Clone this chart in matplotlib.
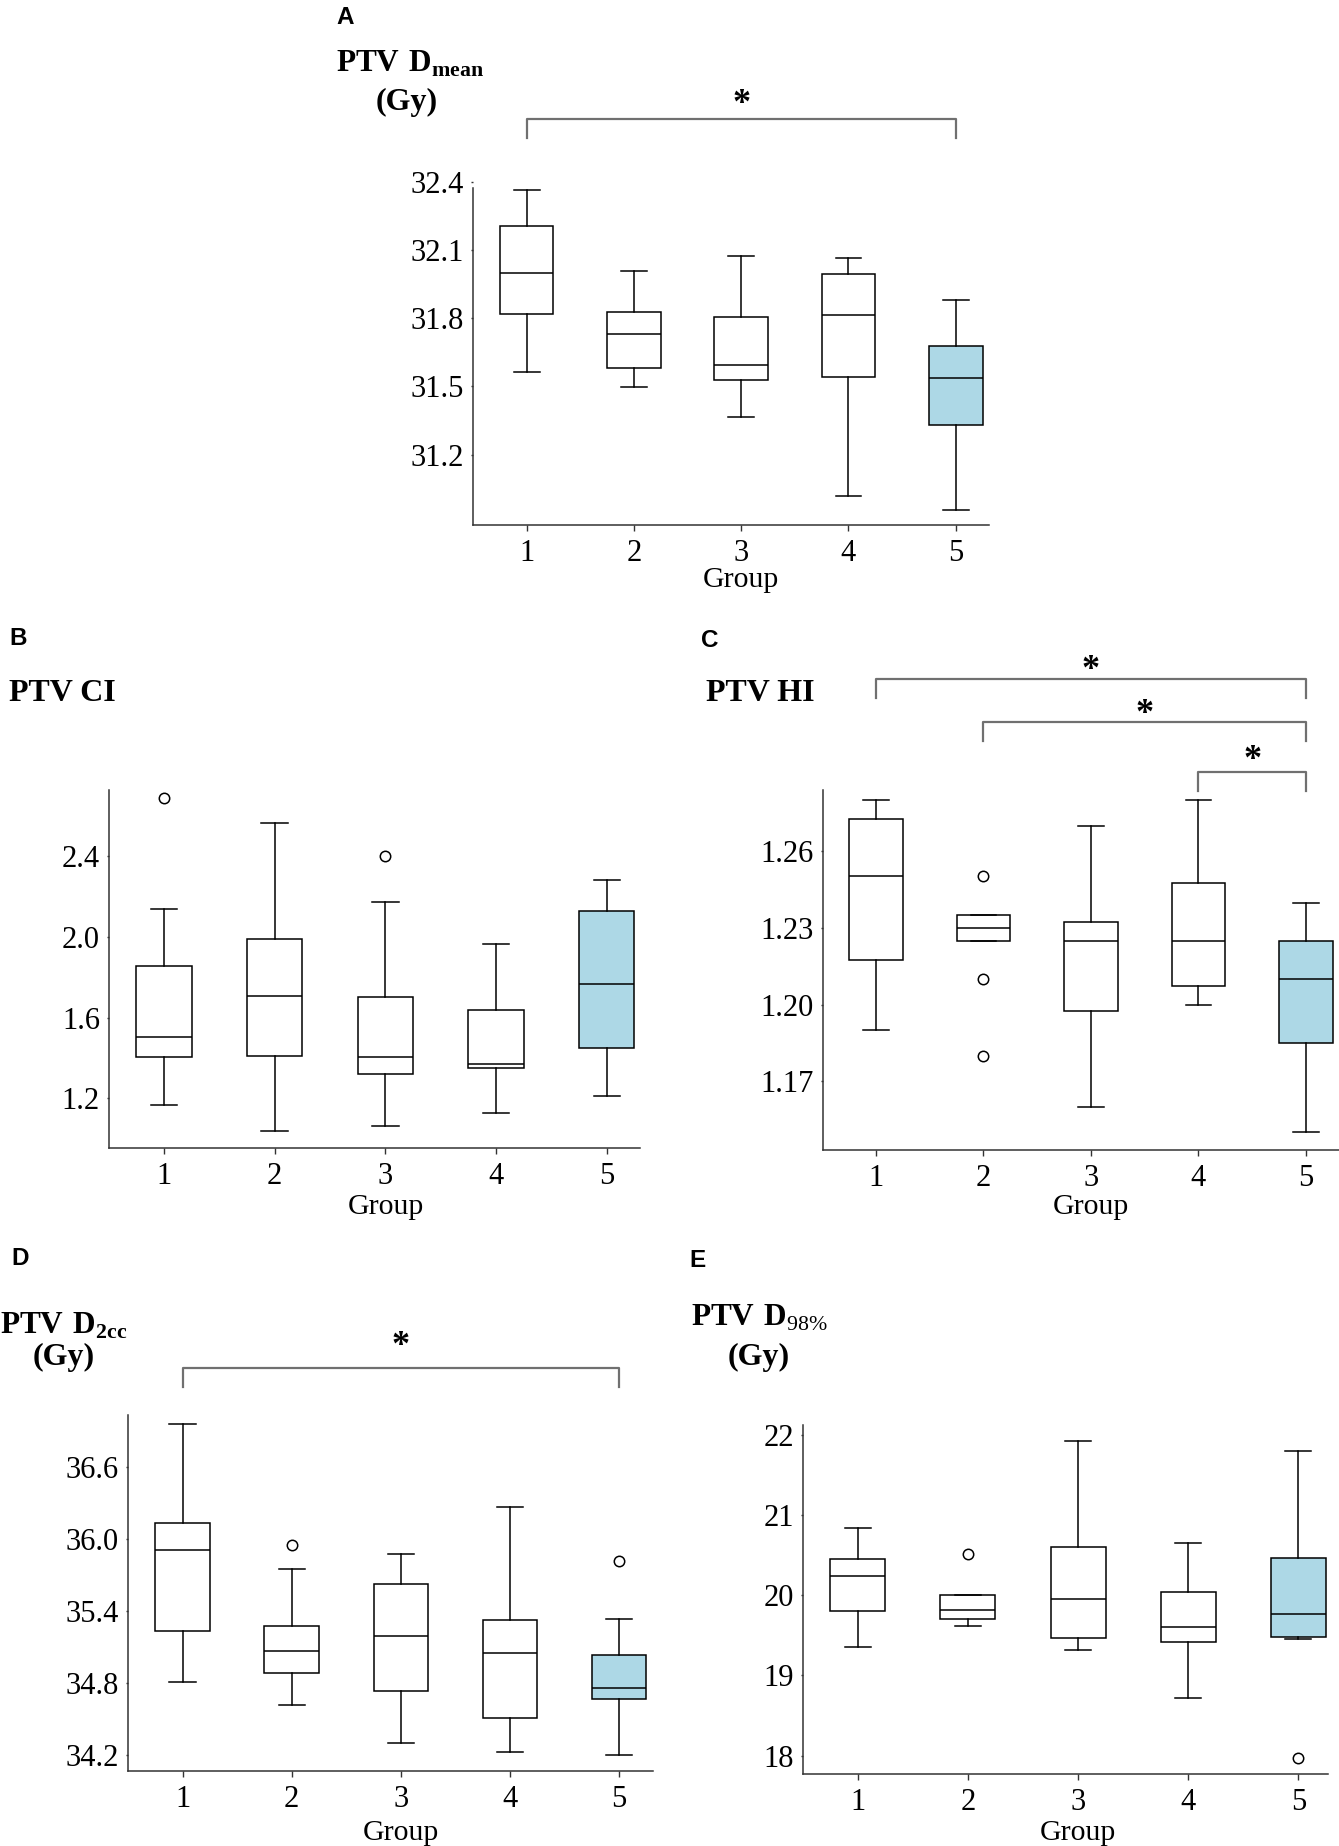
import matplotlib.pyplot as plt
from matplotlib import transforms

W, H = 1339, 1846

plt.rcParams['font.family'] = ['Liberation Serif', 'DejaVu Serif']
plt.rcParams['mathtext.fontset'] = 'custom'
plt.rcParams['mathtext.rm'] = 'Liberation Serif'
plt.rcParams['mathtext.bf'] = 'Liberation Serif:bold'

groups = [1, 2, 3, 4, 5]
fills = ['white', 'white', 'white', 'white', '#ADD8E6']

# --- A: PTV Dmean (Gy) ---
dmean_lo = [31.563, 31.498, 31.367, 31.018, 30.958]
dmean_q1 = [31.819, 31.580, 31.529, 31.543, 31.331]
dmean_med = [31.998, 31.730, 31.592, 31.812, 31.536]
dmean_q3 = [32.207, 31.825, 31.803, 31.995, 31.677]
dmean_hi = [32.364, 32.009, 32.071, 32.064, 31.879]
dmean_out = [[], [], [], [], []]

# --- B: PTV CI ---
ci_lo = [1.165, 1.038, 1.064, 1.125, 1.214]
ci_q1 = [1.403, 1.409, 1.320, 1.348, 1.447]
ci_med = [1.504, 1.705, 1.403, 1.372, 1.766]
ci_q3 = [1.855, 1.991, 1.701, 1.636, 2.126]
ci_hi = [2.138, 2.566, 2.173, 1.966, 2.282]
ci_out = [[2.686], [], [2.40], [], []]

# --- C: PTV HI ---
hi_lo = [1.1901, 1.2250, 1.1599, 1.1999, 1.1502]
hi_q1 = [1.2175, 1.2250, 1.1976, 1.2074, 1.1851]
hi_med = [1.2502, 1.2299, 1.2250, 1.2250, 1.2100]
hi_q3 = [1.2726, 1.2351, 1.2324, 1.2475, 1.2250]
hi_hi = [1.2801, 1.2351, 1.2700, 1.2801, 1.2399]
hi_out = [[], [1.2502, 1.2100, 1.1800], [], [], []]

# --- D: PTV D2cc (Gy) ---
d2cc_lo = [34.806, 34.617, 34.297, 34.223, 34.200]
d2cc_q1 = [35.230, 34.880, 34.733, 34.503, 34.667]
d2cc_med = [35.908, 35.063, 35.190, 35.050, 34.757]
d2cc_q3 = [36.128, 35.273, 35.620, 35.323, 35.030]
d2cc_hi = [36.956, 35.750, 35.873, 36.267, 35.330]
d2cc_out = [[], [35.95], [], [], [35.81]]

# --- E: PTV D98% (Gy) ---
d98_lo = [19.350, 19.619, 19.320, 18.722, 19.454]
d98_q1 = [19.808, 19.699, 19.470, 19.420, 19.484]
d98_med = [20.242, 19.818, 19.958, 19.604, 19.768]
d98_q3 = [20.456, 19.998, 20.600, 20.042, 20.466]
d98_hi = [20.834, 19.998, 21.920, 20.655, 21.800]
d98_out = [[], [20.516], [], [], [17.965]]

fig = plt.figure(figsize=(W / 100, H / 100), dpi=100)


def fy(py):
    return 1 - py / H


def fx(px):
    return px / W


def box_panel(box, xlim, ylim, yticks, fmt, lo, q1, med, q3, hi, out,
              group_base, spine_top=None):
    left, top, right, bottom = box
    ax = fig.add_axes([fx(left), fy(bottom), fx(right - left), (bottom - top) / H])
    stats = [dict(whislo=a, q1=b, med=c, q3=d, whishi=e, fliers=f)
             for a, b, c, d, e, f in zip(lo, q1, med, q3, hi, out)]
    lk = dict(color='black', linewidth=1.1)
    art = ax.bxp(stats, positions=groups, widths=0.5, capwidths=0.24,
                 patch_artist=True, manage_ticks=False,
                 boxprops=dict(edgecolor='black', linewidth=1.1),
                 medianprops=lk, whiskerprops=lk, capprops=lk,
                 flierprops=dict(marker='o', markerfacecolor='none',
                                 markeredgecolor='black', markersize=7.5,
                                 markeredgewidth=1.1))
    for patch, fc in zip(art['boxes'], fills):
        patch.set_facecolor(fc)
    ax.set_xlim(*xlim)
    ax.set_ylim(*ylim)
    ax.set_xticks(groups)
    ax.set_xticklabels([str(g) for g in groups])
    ax.set_yticks(yticks)
    ax.set_yticklabels([fmt % v for v in yticks])
    for side in ['top', 'right']:
        ax.spines[side].set_visible(False)
    for side in ['left', 'bottom']:
        ax.spines[side].set_color('#333333')
        ax.spines[side].set_linewidth(1.1)
    if spine_top is not None:
        ax.spines['left'].set_bounds(ylim[0], spine_top)
    ax.tick_params(axis='x', direction='out', length=4, width=1.0,
                   color='#333333', pad=6, labelsize=22)
    ax.tick_params(axis='y', direction='out', length=1.5, width=1.0,
                   color='#333333', pad=5, labelsize=22)
    ax.set_facecolor('none')
    trans = transforms.blended_transform_factory(ax.transData, fig.transFigure)
    ax.text(3, fy(group_base), 'Group', transform=trans, ha='center',
            va='baseline', fontsize=21.5)
    return ax, trans


def bracket(ax, trans, x1, x2, y, drop, star_y):
    ax.plot([x1, x1, x2, x2], [fy(y + drop), fy(y), fy(y), fy(y + drop)],
            transform=trans, clip_on=False, color='#707070', linewidth=1.6,
            solid_joinstyle='round')
    ax.text((x1 + x2) / 2, fy(star_y + 15), '*', transform=trans,
            ha='center', va='baseline', fontsize=26, fontweight='bold')


def panel_letter(x, y, s):
    fig.text(fx(x), fy(y), s, ha='left', va='top', fontsize=17.5,
             fontweight='bold', family=['Liberation Sans', 'DejaVu Sans'])


def title(x, base, s, ha='left', size=23):
    fig.text(fx(x), fy(base), s, ha=ha, va='baseline', fontsize=size,
             fontweight='bold')


# A (top of the panel is cut just below the 32.4 tick)
axA, trA = box_panel((473, 181, 989, 525), (0.50, 5.31), (30.89, 32.403),
                     [31.2, 31.5, 31.8, 32.1, 32.4], '%.1f',
                     dmean_lo, dmean_q1, dmean_med, dmean_q3, dmean_hi,
                     dmean_out, 587, spine_top=32.372)
bracket(axA, trA, 1, 5, 119, 19, 98)
panel_letter(336, 6, 'A')
title(410, 72, r'$\mathbf{PTV\ D}_{\mathbf{mean}}$', ha='center', size=22.5)
title(407, 110, '(Gy)', ha='center')

# B
axB, trB = box_panel((109, 790, 640, 1148), (0.503, 5.30), (0.954, 2.727),
                     [1.2, 1.6, 2.0, 2.4], '%.1f',
                     ci_lo, ci_q1, ci_med, ci_q3, ci_hi, ci_out, 1214)
panel_letter(9, 627, 'B')
title(9, 701, 'PTV CI')

# C
axC, trC = box_panel((823, 790, 1339, 1150), (0.507, 5.307), (1.1431, 1.2839),
                     [1.17, 1.20, 1.23, 1.26], '%.2f',
                     hi_lo, hi_q1, hi_med, hi_q3, hi_hi, hi_out, 1214)
bracket(axC, trC, 1, 5, 679, 19, 664)
bracket(axC, trC, 2, 5, 722, 19, 708)
bracket(axC, trC, 4, 5, 772, 19, 754)
panel_letter(701, 629, 'C')
title(706, 701, 'PTV HI')

# D
axD, trD = box_panel((128, 1415, 653, 1771), (0.50, 5.31), (34.065, 37.03),
                     [34.2, 34.8, 35.4, 36.0, 36.6], '%.1f',
                     d2cc_lo, d2cc_q1, d2cc_med, d2cc_q3, d2cc_hi, d2cc_out,
                     1840)
bracket(axD, trD, 1, 5, 1368, 19, 1340)
panel_letter(11, 1247, 'D')
title(64, 1334, r'$\mathbf{PTV\ D}_{\mathbf{2cc}}$', ha='center', size=22.5)
title(64, 1365, '(Gy)', ha='center')

# E
axE, trE = box_panel((803, 1425, 1328, 1774), (0.502, 5.27), (17.77, 22.124),
                     [18, 19, 20, 21, 22], '%d',
                     d98_lo, d98_q1, d98_med, d98_q3, d98_hi, d98_out,
                     1840)
panel_letter(689, 1249, 'E')
title(759, 1326, r'$\mathbf{PTV\ D}_{\mathrm{98\%}}$', ha='center', size=22.5)
title(759, 1365, '(Gy)', ha='center')

fig.savefig('out.png', dpi=100, facecolor='white')
